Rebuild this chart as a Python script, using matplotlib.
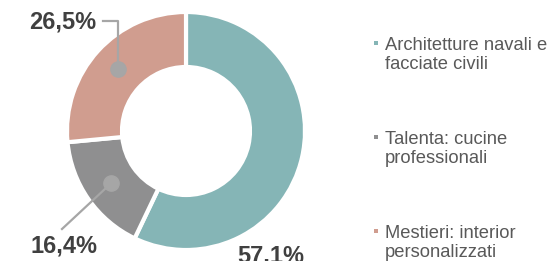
import numpy as np
import matplotlib
matplotlib.use("Agg")
import matplotlib.pyplot as plt
from matplotlib.patches import Rectangle

categories = ["Architetture navali e\nfacciate civili",
              "Talenta: cucine\nprofessionali",
              "Mestieri: interior\npersonalizzati"]
values = [57.1, 16.4, 26.5]
value_labels = ["57,1%", "16,4%", "26,5%"]
colors = ["#85B5B6", "#8F8F90", "#D09D8F"]

W, H = 554, 261
fig = plt.figure(figsize=(W / 100, H / 100), dpi=100)
ax = fig.add_axes([0, 0, 1, 1])

cx, cy = 186, H - 131
R = 119
ring = 55

wedges, _ = ax.pie(values, colors=colors, startangle=90, counterclock=False,
                   radius=R, center=(cx, cy), frame=True,
                   wedgeprops=dict(width=ring, edgecolor="white", linewidth=3))
ax.set_xlim(0, W)
ax.set_ylim(0, H)
ax.axis("off")

font = "Liberation Sans"
lab_color = "#404040"
lead_color = "#A6A6A6"
rm = R - ring / 2

def mid_point(w):
    a = np.deg2rad((w.theta1 + w.theta2) / 2)
    return cx + rm * np.cos(a), cy + rm * np.sin(a)

# 57,1% label
ax.text(271, H - 256, value_labels[0], fontsize=17, fontweight="bold",
        family=font, color=lab_color, ha="center", va="center")

# 16,4% label with leader
px, py = mid_point(wedges[1])
ax.plot([px, 62], [py, H - 229], color=lead_color, lw=1.6, zorder=3)
ax.plot(px, py, "o", ms=11, color=lead_color, zorder=4)
ax.text(63.5, H - 246.5, value_labels[1], fontsize=17, fontweight="bold",
        family=font, color=lab_color, ha="center", va="center")

# 26,5% label with leader
px, py = mid_point(wedges[2])
ax.plot([103, px, px], [H - 21, H - 21, py], color=lead_color, lw=1.6, zorder=3)
ax.plot(px, py, "o", ms=11, color=lead_color, zorder=4)
ax.text(63, H - 22, value_labels[2], fontsize=17, fontweight="bold",
        family=font, color=lab_color, ha="center", va="center")

# legend
baselines = [50, 144, 238]
pitch = 19
for lab, col, yb in zip(categories, colors, baselines):
    ax.add_patch(Rectangle((374, H - yb + 5), 4, 4, color=col, lw=0))
    for i, line in enumerate(lab.split("\n")):
        ax.text(385, H - (yb + i * pitch), line, fontsize=13.2, family=font,
                color="#595959", ha="left", va="baseline")

fig.savefig("out.png", dpi=100)
